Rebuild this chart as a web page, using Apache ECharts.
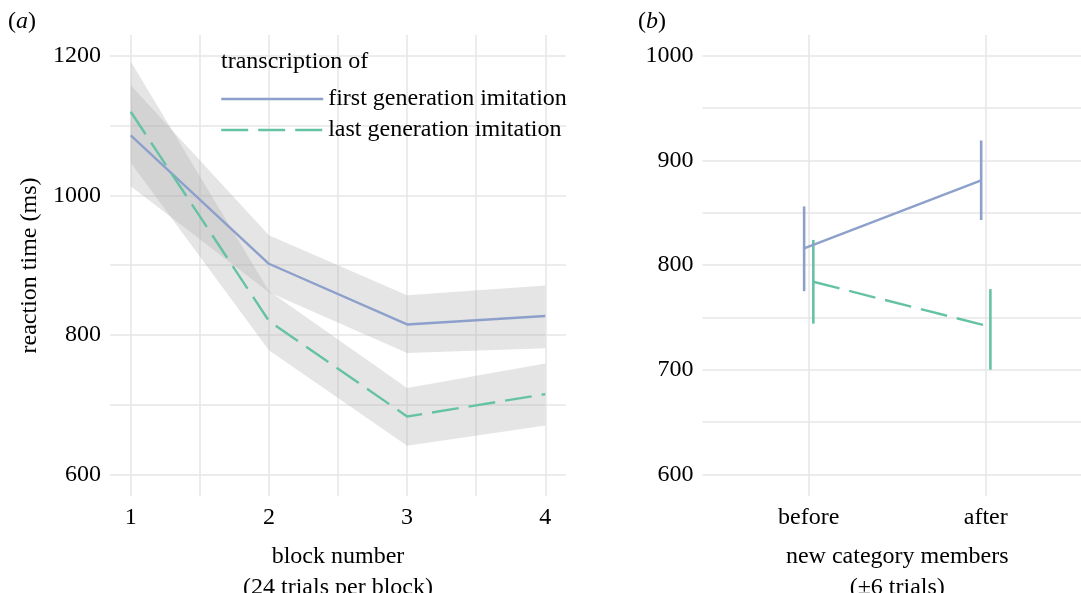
<!DOCTYPE html>
<html>
<head>
<meta charset="utf-8">
<script src="https://cdn.jsdelivr.net/npm/echarts@6/dist/echarts.min.js"></script>
<style>
  html, body { margin: 0; padding: 0; background: #fff; }
  #chart { width: 1081px; height: 593px; }
</style>
</head>
<body>
<div id="chart"></div>
<script>
  // panel (a): reaction time per block
  var blocks = [1, 2, 3, 4];
  var firstMean = [1086, 902, 815, 827];
  var firstLo = [1013, 861, 774, 781];
  var firstHi = [1158, 943, 857, 871];
  var lastMean = [1120, 820, 683, 715];
  var lastLo = [1047, 778, 641, 670];
  var lastHi = [1192, 863, 724, 759];
  var blockGrid = [1, 1.5, 2, 2.5, 3, 3.5, 4];
  var blockLabels = [1, 2, 3, 4];
  var rtGridA = [600, 700, 800, 900, 1000, 1100, 1200];
  var rtLabelsA = [600, 800, 1000, 1200];

  // panel (b): before / after new category members
  var phases = ['before', 'after'];
  var phFirstMean = [816, 881];
  var phFirstLo = [775, 843];
  var phFirstHi = [856, 919];
  var phLastMean = [784, 741];
  var phLastLo = [744, 700];
  var phLastHi = [824, 777];
  var rtGridB = [600, 650, 700, 750, 800, 850, 900, 950, 1000];
  var rtLabelsB = [600, 700, 800, 900, 1000];

  var seriesNames = ['first generation imitation', 'last generation imitation'];

  var FONT = 'Liberation Serif';
  var INK = '#000';
  var BLUE = '#8da0cb';
  var GREEN = '#66c2a5';
  var DASH = [27, 10];
  var LW = 2.4;
  var GRIDLINE = '#e6e6e6';
  var DODGE = 0.026;

  function ribbon(lo, hi) {
    return {
      type: 'custom',
      xAxisIndex: 0, yAxisIndex: 0,
      silent: true, z: 1,
      data: blocks.map(function (b, i) { return [b, lo[i], hi[i]]; }),
      encode: { x: 0, y: [1, 2] },
      renderItem: function (params, api) {
        if (params.dataIndex !== 0) return;
        var pts = [];
        for (var i = 0; i < blocks.length; i++) pts.push(api.coord([blocks[i], hi[i]]));
        for (var j = blocks.length - 1; j >= 0; j--) pts.push(api.coord([blocks[j], lo[j]]));
        return { type: 'polygon', shape: { points: pts }, style: { fill: 'rgba(170,170,170,0.3)' } };
      }
    };
  }

  function errBars(offset, lo, hi, color) {
    return {
      type: 'custom',
      xAxisIndex: 1, yAxisIndex: 1,
      silent: true, z: 3,
      data: phases.map(function (p, i) { return [i + 1 + offset, lo[i], hi[i]]; }),
      encode: { x: 0, y: [1, 2] },
      renderItem: function (params, api) {
        var a = api.coord([api.value(0), api.value(1)]);
        var b = api.coord([api.value(0), api.value(2)]);
        return { type: 'line', shape: { x1: a[0], y1: a[1], x2: b[0], y2: b[1] },
                 style: { stroke: color, lineWidth: 2.6 } };
      }
    };
  }

  function xy(xs, ys) { return xs.map(function (x, i) { return [x, ys[i]]; }); }
  function plain(v) { return String(v); }

  var option = {
    backgroundColor: '#fff',
    animation: false,
    title: [
      { text: '({i|a})', left: 8, top: 10, padding: 0,
        textStyle: { fontFamily: FONT, fontSize: 24, fontWeight: 'normal', color: INK,
                     rich: { i: { fontFamily: FONT, fontSize: 24, fontStyle: 'italic', color: INK } } } },
      { text: '({i|b})', left: 638, top: 10, padding: 0,
        textStyle: { fontFamily: FONT, fontSize: 24, fontWeight: 'normal', color: INK,
                     rich: { i: { fontFamily: FONT, fontSize: 24, fontStyle: 'italic', color: INK } } } },
      { text: 'transcription of', left: 221, top: 50, padding: 0,
        textStyle: { fontFamily: FONT, fontSize: 24, fontWeight: 'normal', color: INK } }
    ],
    legend: {
      left: 215, top: 82, orient: 'vertical',
      itemWidth: 102, itemHeight: 24, itemGap: 7,
      selectedMode: false,
      itemStyle: { opacity: 0 },
      textStyle: { fontFamily: FONT, fontSize: 24, color: INK },
      data: [
        { name: seriesNames[0], lineStyle: { width: LW } },
        { name: seriesNames[1], lineStyle: { width: LW, type: DASH } }
      ]
    },
    grid: [
      { left: 110, top: 35, width: 456, height: 461, outerBoundsMode: 'none' },
      { left: 702.5, top: 35, width: 389.5, height: 461, outerBoundsMode: 'none' }
    ],
    xAxis: [
      {
        type: 'value', gridIndex: 0, min: 0.85, max: 4.15,
        axisLine: { show: false },
        axisTick: { show: false, customValues: blockGrid },
        axisLabel: { customValues: blockLabels, margin: 10, fontFamily: FONT, fontSize: 24, color: INK },
        splitLine: { show: true, lineStyle: { color: GRIDLINE, width: 1.5 } },
        name: 'block number\n(24 trials per block)', nameLocation: 'middle', nameGap: 45,
        nameTextStyle: { fontFamily: FONT, fontSize: 24, color: INK, lineHeight: 31 }
      },
      {
        type: 'value', gridIndex: 1, min: 0.4, max: 2.6,
        axisLine: { show: false },
        axisTick: { show: false, customValues: [1, 2] },
        axisLabel: { customValues: [1, 2], margin: 10, fontFamily: FONT, fontSize: 24, color: INK,
                     formatter: function (v) { return phases[Math.round(v) - 1]; } },
        splitLine: { show: true, lineStyle: { color: GRIDLINE, width: 1.5 } },
        name: 'new category members\n(\u00b16 trials)', nameLocation: 'middle', nameGap: 45,
        nameTextStyle: { fontFamily: FONT, fontSize: 24, color: INK, lineHeight: 31 }
      }
    ],
    yAxis: [
      {
        type: 'value', gridIndex: 0, min: 569, max: 1230,
        axisLine: { show: false },
        axisTick: { show: false, customValues: rtGridA },
        axisLabel: { customValues: rtLabelsA, margin: 9, fontFamily: FONT, fontSize: 24, color: INK,
                     formatter: plain },
        splitLine: { show: true, lineStyle: { color: GRIDLINE, width: 1.5 } },
        name: 'reaction time (ms)', nameLocation: 'middle', nameGap: 68,
        nameTextStyle: { fontFamily: FONT, fontSize: 24, color: INK }
      },
      {
        type: 'value', gridIndex: 1, min: 579.3, max: 1019.8,
        axisLine: { show: false },
        axisTick: { show: false, customValues: rtGridB },
        axisLabel: { customValues: rtLabelsB, margin: 9, fontFamily: FONT, fontSize: 24, color: INK,
                     formatter: plain },
        splitLine: { show: true, lineStyle: { color: GRIDLINE, width: 1.5 } }
      }
    ],
    series: [
      ribbon(firstLo, firstHi),
      ribbon(lastLo, lastHi),
      {
        name: seriesNames[0], type: 'line', xAxisIndex: 0, yAxisIndex: 0, z: 4,
        symbol: 'none', data: xy(blocks, firstMean),
        lineStyle: { color: BLUE, width: LW }, itemStyle: { color: BLUE }
      },
      {
        name: seriesNames[1], type: 'line', xAxisIndex: 0, yAxisIndex: 0, z: 4,
        symbol: 'none', data: xy(blocks, lastMean),
        lineStyle: { color: GREEN, width: LW, type: DASH }, itemStyle: { color: GREEN }
      },
      errBars(-DODGE, phFirstLo, phFirstHi, BLUE),
      errBars(DODGE, phLastLo, phLastHi, GREEN),
      {
        name: seriesNames[0], type: 'line', xAxisIndex: 1, yAxisIndex: 1, z: 4,
        symbol: 'none', data: xy([1 - DODGE, 2 - DODGE], phFirstMean),
        lineStyle: { color: BLUE, width: LW }, itemStyle: { color: BLUE }
      },
      {
        name: seriesNames[1], type: 'line', xAxisIndex: 1, yAxisIndex: 1, z: 4,
        symbol: 'none', data: xy([1 + DODGE, 2 + DODGE], phLastMean),
        lineStyle: { color: GREEN, width: LW, type: DASH }, itemStyle: { color: GREEN }
      }
    ]
  };

  var chart = echarts.init(document.getElementById('chart'), null, { renderer: 'canvas' });
  chart.setOption(option);
</script>
</body>
</html>
